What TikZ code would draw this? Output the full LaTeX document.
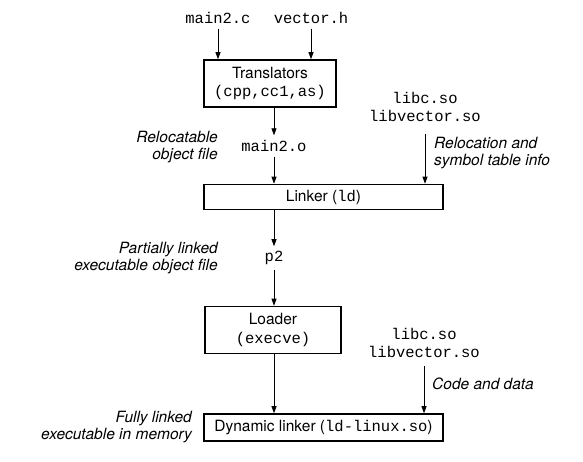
\documentclass[tikz,border=0pt]{standalone}
\usepackage{fontspec}
\setmainfont{TeX Gyre Heros}
\setmonofont{Liberation Mono}
\usetikzlibrary{arrows.meta}
\begin{document}
\begin{tikzpicture}[x=1pt,y=-1pt,
  font=\fontsize{15.5}{17.5}\selectfont,
  box/.style={draw,line width=1.6pt,inner sep=0pt,align=center},
  lbl/.style={inner sep=5pt,outer sep=0pt,align=center},
  note/.style={inner sep=0pt,font=\fontsize{15.5}{17.5}\selectfont\itshape},
  arr/.style={line width=0.8pt,-{Triangle[length=7pt,width=5pt]}}]
\useasboundingbox (0,0) rectangle (583,461);
% top inputs
\node[lbl] (main2c) at (218,18) {\texttt{main2.c}};
\node[lbl] (vectorh) at (311,18) {\texttt{vector.h}};
\node[box,minimum width=132pt,minimum height=47pt] (trans) at (270,83.5)
  {Translators\\[1pt]\texttt{(cpp,cc1,as)}};
\draw[arr] (main2c) -- (main2c |- trans.north);
\draw[arr] (vectorh) -- (vectorh |- trans.north);
% main2.o
\node[lbl] (main2o) at (274,146) {\texttt{main2.o}};
\draw[arr] (trans.south -| main2o) -- (main2o);
\node[note,anchor=east,align=right] (reloc) at (218,147) {Relocatable\\object file};
% libs 1
\node[lbl] (libs1) at (425,107) {\texttt{libc.so}\\\texttt{libvector.so}};
\node[note,anchor=west,align=left] (relinfo) at (434,153) {Relocation and\\symbol table info};
% linker
\node[box,minimum width=239pt,minimum height=25pt] (linker) at (323.5,197)
  {Linker (\texttt{ld})};
\draw[arr] (main2o) -- (main2o |- linker.north);
\draw[arr,shorten <=8pt] (libs1.south) -- (libs1.south |- linker.north);
% p2
\node[lbl] (p2) at (274,258) {\texttt{p2}};
\draw[arr] (linker.south -| p2) -- (p2);
\node[note,anchor=east,align=right] (partial) at (218,258) {Partially linked\\executable object file};
% loader
\node[box,minimum width=136pt,minimum height=47pt] (loader) at (273,330)
  {Loader\\[1pt]\texttt{(execve)}};
\draw[arr] (p2) -- (p2 |- loader.north);
% libs 2
\node[lbl] (libs2) at (424,343) {\texttt{libc.so}\\\texttt{libvector.so}};
\node[note,anchor=west] (code) at (432,384) {Code and data};
% dynamic linker
\node[box,minimum width=239pt,minimum height=27pt] (dyn) at (323.5,427.5)
  {Dynamic linker (\texttt{ld-linux.so})};
\draw[arr] (loader.south -| p2) -- (dyn.north -| p2);
\draw[arr,shorten <=4pt] (libs2.south) -- (libs2.south |- dyn.north);
\node[note,anchor=east,align=right] (fully) at (192,427) {Fully linked\\executable in memory};
\end{tikzpicture}
\end{document}
